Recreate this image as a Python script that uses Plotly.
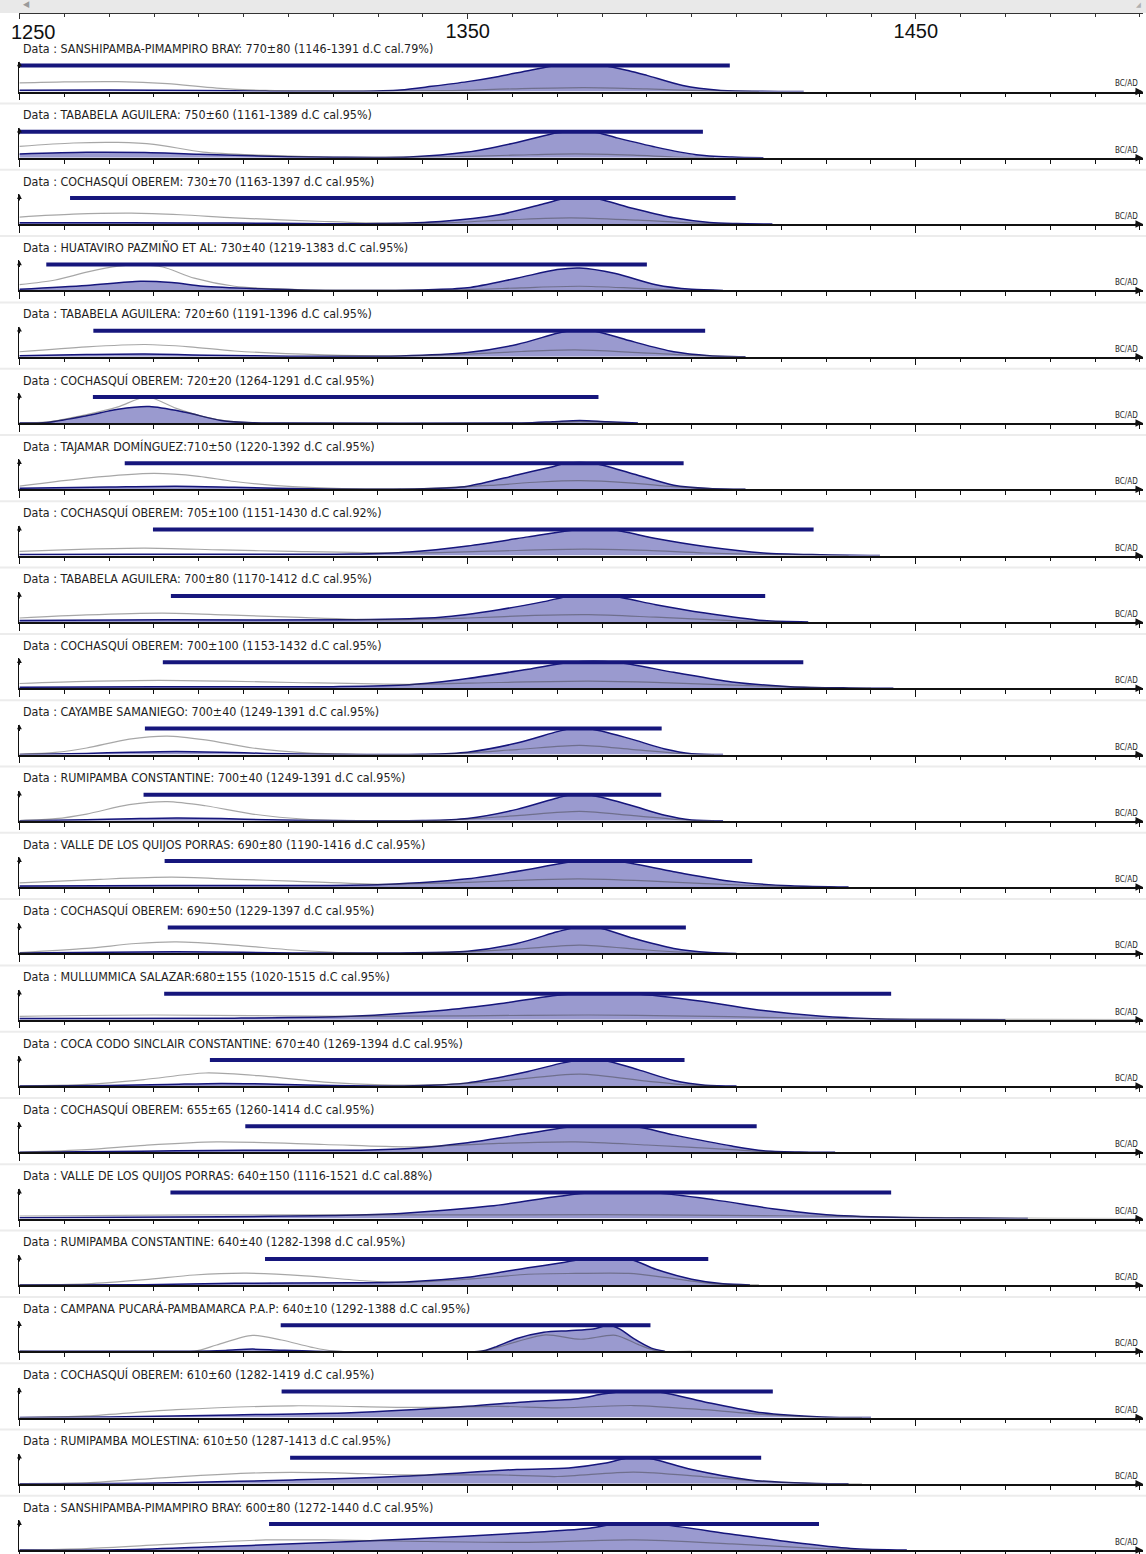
import plotly.graph_objects as go

# ---------------- data ----------------
LABELS = [
    "Data : SANSHIPAMBA-PIMAMPIRO BRAY: 770±80 (1146-1391 d.C cal.79%)",
    "Data : TABABELA AGUILERA: 750±60 (1161-1389 d.C cal.95%)",
    "Data : COCHASQUÍ OBEREM: 730±70 (1163-1397 d.C cal.95%)",
    "Data : HUATAVIRO PAZMIÑO ET AL: 730±40 (1219-1383 d.C cal.95%)",
    "Data : TABABELA AGUILERA: 720±60 (1191-1396 d.C cal.95%)",
    "Data : COCHASQUÍ OBEREM: 720±20 (1264-1291 d.C cal.95%)",
    "Data : TAJAMAR DOMÍNGUEZ:710±50 (1220-1392 d.C cal.95%)",
    "Data : COCHASQUÍ OBEREM: 705±100 (1151-1430 d.C cal.92%)",
    "Data : TABABELA AGUILERA: 700±80 (1170-1412 d.C cal.95%)",
    "Data : COCHASQUÍ OBEREM: 700±100 (1153-1432 d.C cal.95%)",
    "Data : CAYAMBE SAMANIEGO: 700±40 (1249-1391 d.C cal.95%)",
    "Data : RUMIPAMBA CONSTANTINE: 700±40 (1249-1391 d.C cal.95%)",
    "Data : VALLE DE LOS QUIJOS PORRAS: 690±80 (1190-1416 d.C cal.95%)",
    "Data : COCHASQUÍ OBEREM: 690±50 (1229-1397 d.C cal.95%)",
    "Data : MULLUMMICA SALAZAR:680±155 (1020-1515 d.C cal.95%)",
    "Data : COCA CODO SINCLAIR CONSTANTINE: 670±40 (1269-1394 d.C cal.95%)",
    "Data : COCHASQUÍ OBEREM: 655±65 (1260-1414 d.C cal.95%)",
    "Data : VALLE DE LOS QUIJOS PORRAS: 640±150 (1116-1521 d.C cal.88%)",
    "Data : RUMIPAMBA CONSTANTINE: 640±40 (1282-1398 d.C cal.95%)",
    "Data : CAMPANA PUCARÁ-PAMBAMARCA P.A.P: 640±10 (1292-1388 d.C cal.95%)",
    "Data : COCHASQUÍ OBEREM: 610±60 (1282-1419 d.C cal.95%)",
    "Data : RUMIPAMBA MOLESTINA: 610±50 (1287-1413 d.C cal.95%)",
    "Data : SANSHIPAMBA-PIMAMPIRO BRAY: 600±80 (1272-1440 d.C cal.95%)",
]

# range bars (calendar years on the drawn axis)
BAR_FROM = [1245, 1245, 1261.3, 1256, 1266.5, 1266.4, 1273.5, 1279.8, 1283.8, 1282,
            1278, 1277.7, 1282.4, 1283.1, 1282.3, 1292.5, 1300.4, 1283.7, 1304.8,
            1308.3, 1308.5, 1310.4, 1305.7]
BAR_TO = [1408.5, 1402.5, 1409.8, 1390, 1403, 1379.2, 1398.2, 1427.2, 1416.4, 1424.9,
          1393.3, 1393.2, 1413.5, 1398.7, 1444.5, 1398.4, 1414.5, 1444.5, 1403.7,
          1390.8, 1418.1, 1415.5, 1428.4]

# calibrated (modelled) probability, relative height (1 = peak level at bar)
BLUE_CURVES = [
    [(1250, .05), (1270, .06), (1290, .04), (1305, .015), (1325, .01), (1335, .06), (1342, .2), (1350, .38),
     (1357, .58), (1364, .82), (1370, 1), (1380, 1), (1386, .8), (1390, .62), (1398, .23), (1406, .05),
     (1415, .01), (1425, 0)],
    [(1250, .15), (1265, .21), (1278, .2), (1290, .14), (1298, .1), (1310, .04), (1320, .02), (1337, .03),
     (1350, .22), (1361, .59), (1370, .96), (1373, 1), (1378, 1), (1383, .78), (1392, .41), (1401, .12),
     (1409, .03), (1416, 0)],
    [(1250, .05), (1275, .05), (1298, .04), (1318, .015), (1330, .02), (1344, .1), (1357, .36), (1367, .78),
     (1372, 1), (1378, 1), (1387, .6), (1396, .24), (1404, .06), (1410, .02), (1418, 0)],
    [(1250, .04), (1265, .19), (1277, .35), (1284, .3), (1291, .16), (1304, .06), (1315, .01), (1340, .02),
     (1350, .1), (1361, .47), (1370, .8), (1375, .86), (1383, .65), (1392, .22), (1400, .04), (1407, 0)],
    [(1250, .04), (1265, .08), (1278, .1), (1292, .06), (1310, .02), (1335, .03), (1350, .16), (1361, .47),
     (1370, .9), (1373, 1), (1378, 1), (1386, .62), (1396, .19), (1404, .04), (1412, 0)],
    [(1250, 0), (1256, .02), (1265, .28), (1272, .53), (1279, .63), (1287, .41), (1295, .1), (1302, .01),
     (1308, 0), (1362, 0), (1369, .05), (1375, .1), (1381, .05), (1388, 0)],
    [(1250, .04), (1270, .09), (1285, .12), (1298, .08), (1315, .02), (1340, .02), (1350, .12), (1361, .55),
     (1368.5, .85), (1372, 1), (1378, 1), (1387, .59), (1396, .16), (1404, .03), (1412, 0)],
    [(1250, .04), (1275, .05), (1300, .05), (1324, .06), (1337, .14), (1350, .37), (1363.5, .72), (1372, .95),
     (1375, 1), (1382, 1), (1392, .66), (1403, .35), (1416, .1), (1429, .03), (1442, 0)],
    [(1250, .05), (1283, .08), (1324, .08), (1344, .18), (1357, .47), (1367, .78), (1373, 1), (1382, 1),
     (1392, .66), (1403, .34), (1416, .05), (1426, 0)],
    [(1250, .04), (1280, .06), (1320, .06), (1337, .13), (1350, .37), (1363.5, .73), (1373, 1), (1383, 1),
     (1396, .61), (1409, .24), (1422, .06), (1435, .01), (1445, 0)],
    [(1250, 0), (1265, .04), (1275, .09), (1285, .12), (1295, .09), (1305, .04), (1318, .01), (1340, .01),
     (1350, .09), (1361, .44), (1370, .88), (1373, 1), (1377, 1), (1386, .62), (1394, .21), (1400, .03),
     (1407, 0)],
    [(1250, 0), (1265, .04), (1275, .08), (1285, .11), (1295, .09), (1305, .04), (1318, .01), (1340, .01),
     (1350, .09), (1361, .44), (1370, .88), (1373, 1), (1377, 1), (1386, .62), (1394, .21), (1400, .03),
     (1407, 0)],
    [(1250, .04), (1285, .06), (1315, .06), (1331, .1), (1350, .32), (1363.5, .68), (1372, .95), (1375, 1),
     (1383, 1), (1396, .59), (1409, .22), (1422, .05), (1435, 0)],
    [(1250, .02), (1270, .04), (1285, .06), (1300, .04), (1311, .02), (1335, .02), (1350, .08), (1361, .38),
     (1370, .83), (1374, 1), (1379, 1), (1387, .58), (1396, .19), (1404, .03), (1410, 0)],
    [(1250, .05), (1298, .06), (1324, .13), (1344, .35), (1357, .61), (1370, .94), (1375, 1), (1387, 1),
     (1402.7, .7), (1416, .35), (1429, .13), (1442, .03), (1455, .01), (1470, 0)],
    [(1250, 0), (1270, .02), (1283, .06), (1295, .1), (1307, .07), (1320, .02), (1338, .01), (1350, .12),
     (1363.5, .56), (1371, .88), (1375, 1), (1380, 1), (1388, .63), (1396, .21), (1403, .03), (1410, 0)],
    [(1250, 0), (1270, .03), (1285, .06), (1300, .08), (1324, .08), (1337, .15), (1350, .37), (1363.5, .73),
     (1373, .98), (1375, 1), (1387, 1), (1396, .67), (1409, .24), (1416, .06), (1424, .01), (1432, 0)],
    [(1250, .03), (1295, .07), (1320, .12), (1335, .2), (1355, .48), (1370, .85), (1378, 1), (1391, 1),
     (1405, .72), (1418, .38), (1430, .15), (1445, .05), (1460, .02), (1475, 0)],
    [(1250, 0), (1278, .01), (1298, .06), (1324, .08), (1337, .12), (1350, .29), (1363.5, .66), (1371, .85),
     (1376, 1), (1386, 1), (1392, .6), (1400, .22), (1407, .04), (1413, 0)],
    [(1250, 0), (1289, 0), (1296, .03), (1302, .08), (1308, .04), (1316, 0), (1353, 0), (1356, .15),
     (1361, .49), (1367, .73), (1372.6, .79), (1378, .85), (1381.5, 1), (1384, .85), (1387, .49),
     (1391, .12), (1394, 0)],
    [(1250, 0), (1270, .02), (1298, .1), (1324, .18), (1350, .43), (1363.5, .61), (1374, .71), (1380.5, .91),
     (1385, 1), (1392, 1), (1402.7, .61), (1415.8, .18), (1429, .02), (1440, 0)],
    [(1250, 0), (1270, .01), (1285, .04), (1311, .15), (1337, .3), (1361, .55), (1372.6, .61), (1380.5, .79),
     (1386, 1), (1390, 1), (1400, .55), (1413, .15), (1426, .02), (1435, 0)],
    [(1250, 0), (1272, .01), (1291.5, .12), (1311, .24), (1337, .43), (1363.5, .67), (1376.6, .83), (1383, 1),
     (1392, 1), (1409, .61), (1422.4, .3), (1435.5, .06), (1448, 0)],
]

# unmodelled likelihood (thin grey line)
GRAY_CURVES = [
    [(1250, .33), (1260, .37), (1272, .38), (1283, .3), (1294, .13), (1305, .04), (1320, .02), (1345, .03),
     (1360, .1), (1376, .15), (1390, .1), (1402, .03), (1415, 0)],
    [(1250, .44), (1262, .57), (1272, .59), (1280, .52), (1291, .22), (1304, .1), (1318, .03), (1330, .02),
     (1345, .04), (1360, .1), (1374, .15), (1387, .1), (1396, .03), (1405, 0)],
    [(1250, .27), (1262, .38), (1275, .42), (1286, .36), (1298, .24), (1318, .1), (1332, .03), (1345, .05),
     (1360, .17), (1373, .24), (1388, .15), (1403, .03), (1412, 0)],
    [(1250, .22), (1258, .4), (1265, .7), (1272, .93), (1277, .98), (1282, .9), (1289, .47), (1298, .16),
     (1311, .04), (1325, .01), (1350, .03), (1362, .1), (1375, .16), (1388, .08), (1398, .01), (1405, 0)],
    [(1250, .19), (1265, .38), (1278, .47), (1288, .38), (1298, .22), (1318, .07), (1335, .03), (1350, .1),
     (1362, .2), (1374, .26), (1388, .16), (1402, .04), (1412, 0)],
    [(1250, 0), (1256, .03), (1265, .32), (1272, .62), (1278.5, 1), (1285, .56), (1291, .25), (1297, .06),
     (1302, .01), (1308, 0), (1365, 0), (1375, .06), (1385, 0)],
    [(1250, .12), (1265, .43), (1280, .61), (1290, .5), (1298, .3), (1311, .1), (1322, .03), (1340, .03),
     (1355, .15), (1366, .28), (1375, .33), (1386, .25), (1396, .1), (1405, .02), (1412, 0)],
    [(1250, .16), (1265, .25), (1278, .29), (1295, .22), (1311, .16), (1337, .1), (1355, .17), (1376, .25),
     (1390, .2), (1403, .1), (1422, .03), (1435, 0)],
    [(1250, .15), (1265, .27), (1282, .34), (1296, .27), (1311, .18), (1331, .08), (1350, .15), (1365, .25),
     (1377, .28), (1392, .18), (1409, .05), (1420, 0)],
    [(1250, .18), (1265, .26), (1281, .3), (1296, .27), (1311, .22), (1337, .15), (1357, .22), (1377, .27),
     (1390, .23), (1403, .16), (1416, .08), (1429, .02), (1440, 0)],
    [(1250, .01), (1258, .08), (1265, .25), (1274.5, .59), (1283, .71), (1291.5, .56), (1302, .25),
     (1314, .06), (1325, .01), (1345, .02), (1361, .19), (1375, .35), (1387, .19), (1399, .02), (1405, 0)],
    [(1250, .01), (1258, .08), (1265, .26), (1274.5, .62), (1283, .74), (1291.5, .58), (1302, .26),
     (1314, .06), (1325, .01), (1345, .02), (1361, .2), (1375, .36), (1387, .2), (1399, .02), (1405, 0)],
    [(1250, .16), (1268, .3), (1284, .38), (1298, .3), (1311, .23), (1331, .11), (1350, .18), (1364, .28),
     (1375, .32), (1390, .24), (1403, .13), (1422, .02), (1432, 0)],
    [(1250, .03), (1265, .19), (1276, .38), (1285, .44), (1298, .32), (1311, .13), (1324, .02), (1340, .02),
     (1352, .08), (1363.5, .19), (1375, .32), (1390, .13), (1402, .01), (1408, 0)],
    [(1250, .13), (1280, .18), (1324, .13), (1350, .15), (1377, .18), (1400, .14), (1416, .09), (1442, .03),
     (1470, .01), (1500, 0)],
    [(1250, 0), (1265, .06), (1278, .25), (1291.5, .5), (1304.6, .38), (1318, .15), (1331, .04), (1343, .05),
     (1357, .19), (1375, .46), (1390, .19), (1399, .04), (1406, 0)],
    [(1250, 0), (1265, .1), (1278, .27), (1294, .4), (1318, .3), (1337, .21), (1357, .34), (1374, .4),
     (1390, .28), (1409, .1), (1418, .02), (1426, 0)],
    [(1250, .1), (1290, .14), (1340, .14), (1380, .15), (1420, .11), (1450, .05), (1480, .01), (1500, 0)],
    [(1250, 0), (1265, .04), (1278, .2), (1289, .38), (1300.6, .45), (1313.7, .35), (1327, .16), (1337, .1),
     (1350, .22), (1363.5, .41), (1374, .44), (1386, .44), (1394, .29), (1403, .08), (1409, .01), (1415, 0)],
    [(1250, 0), (1289, 0), (1294, .24), (1302, .61), (1308.5, .43), (1315, .16), (1320, .01), (1353, 0),
     (1361, .37), (1367.4, .63), (1375.3, .46), (1383, .61), (1388.3, .24), (1392.3, .01), (1400, 0)],
    [(1250, 0), (1265, .06), (1285, .3), (1311, .45), (1337, .39), (1357, .43), (1370, .37), (1387, .46),
     (1402.7, .3), (1415.8, .12), (1429, .01), (1438, 0)],
    [(1250, 0), (1265, .04), (1285, .27), (1305, .43), (1318, .43), (1337, .34), (1357, .34), (1370, .28),
     (1387, .45), (1402.7, .27), (1415.8, .09), (1429, .01), (1438, 0)],
    [(1250, 0), (1265, .06), (1285, .24), (1305, .39), (1318, .39), (1337, .34), (1363.5, .3), (1387, .39),
     (1409, .24), (1429, .06), (1442, 0)],
]

TOP_TICKS = [1250, 1350, 1450]
TOP_TICK_TEXT = ["", "1350", "1450"]   # first label is placed flush-left below
TOP_FIRST_LABEL = "1250"

# ---------------- style / layout ----------------
W, H = 1146, 1554
NAVY = "#16167c"
FILL = "#9a9acf"
GRAY = "rgba(60,60,60,0.45)"
TXT = "#1e1e1e"
FONT = "DejaVu Sans Condensed, Liberation Sans Narrow, Liberation Sans, Arial, sans-serif"
SCALE_FONT = dict(size=20, color="#111", family="Liberation Sans, Arial, sans-serif")

X0_PX, X1_PX = 19.4, 1143.0
PX_PER_YEAR = 4.482
XMIN = 1250
XMAX = XMIN + (X1_PX - X0_PX) / PX_PER_YEAR
XDOM = [X0_PX / W, X1_PX / W]
ROW0, PITCH = 48.5, 66.3


def py(y):
    return 1 - y / H


fig = go.Figure()
layout = dict(
    width=W, height=H, margin=dict(l=0, r=0, t=0, b=0, autoexpand=False),
    paper_bgcolor="white", plot_bgcolor="rgba(0,0,0,0)",
    showlegend=False, font=dict(family=FONT, color=TXT),
)
annotations = []
shapes = []

axis_common = dict(showgrid=False, zeroline=False, fixedrange=True, automargin=False)

for i, label in enumerate(LABELS):
    k = i + 1
    sx = "" if k == 1 else str(k)
    xa, ya = "x" + sx, "y" + sx
    L = ROW0 + PITCH * i
    bar = L + 17
    base = L + 43
    top = bar - 4
    ytop = (base - top) / (base - bar)

    layout["xaxis" + sx] = dict(
        axis_common, domain=XDOM, range=[XMIN, XMAX], anchor=ya,
        showline=True, linecolor="#111", linewidth=1.5,
        ticks="outside", ticklen=7, tickwidth=1, tickcolor="#111",
        tickmode="linear", tick0=1250, dtick=100, showticklabels=False,
        minor=dict(tickmode="linear", tick0=1250, dtick=10, ticks="outside",
                   ticklen=4, tickwidth=1, tickcolor="#111", showgrid=False),
    )
    layout["yaxis" + sx] = dict(
        axis_common, domain=[py(base), py(top)], range=[0, ytop], anchor=xa,
        showline=True, linecolor="#111", linewidth=1.2, ticks="",
        showticklabels=False,
    )

    bx = [p[0] for p in BLUE_CURVES[i]]
    by = [p[1] for p in BLUE_CURVES[i]]
    gx = [p[0] for p in GRAY_CURVES[i]]
    gy = [p[1] for p in GRAY_CURVES[i]]

    fig.add_trace(go.Scatter(
        x=bx, y=by, xaxis=xa, yaxis=ya, mode="lines", fill="tozeroy",
        fillcolor=FILL, line=dict(color=NAVY, width=1.5, shape="spline", smoothing=0.8),
        hoverinfo="skip"))
    fig.add_trace(go.Scatter(
        x=gx, y=gy, xaxis=xa, yaxis=ya, mode="lines",
        line=dict(color=GRAY, width=1.2, shape="spline", smoothing=0.8),
        hoverinfo="skip"))
    fig.add_trace(go.Scatter(
        x=[BAR_FROM[i], BAR_TO[i]], y=[1, 1], xaxis=xa, yaxis=ya, mode="lines",
        line=dict(color=NAVY, width=4), hoverinfo="skip"))

    # row title
    annotations.append(dict(
        x=21 / W, y=py(L), xref="paper", yref="paper", text=label, showarrow=False,
        xanchor="left", yanchor="middle", font=dict(size=12.4, color=TXT, family=FONT)))
    # BC/AD
    annotations.append(dict(
        x=XMAX, y=0, xref=xa, yref=ya, text="BC/AD", showarrow=False,
        xanchor="right", yanchor="bottom", xshift=-3, yshift=1,
        font=dict(size=8, color=TXT, family=FONT)))
    # arrow heads
    annotations.append(dict(
        x=XMAX, y=0, xref=xa, yref=ya, text="", showarrow=True, ax=-9, ay=0,
        arrowhead=2, arrowsize=1, arrowwidth=1.5, arrowcolor="#111", standoff=0))
    annotations.append(dict(
        x=XMIN, y=ytop, xref=xa, yref=ya, text="", showarrow=True, ax=0, ay=8,
        arrowhead=2, arrowsize=0.8, arrowwidth=1.2, arrowcolor="#111", standoff=0))
    # faint separator
    shapes.append(dict(type="line", xref="paper", yref="paper", x0=0, x1=1,
                       y0=py(base + 12), y1=py(base + 12),
                       line=dict(color="#ececec", width=2), layer="below"))

# top scale (own axis pair; an invisible anchor point makes plotly draw it)
kt = len(LABELS) + 1
fig.add_trace(go.Scatter(x=[XMIN + 1], y=[0.5], xaxis="x%d" % kt, yaxis="y%d" % kt,
                         mode="markers", marker=dict(opacity=0), hoverinfo="skip"))
layout["xaxis%d" % kt] = dict(
    axis_common, domain=XDOM, range=[XMIN - 0.05, XMAX], anchor="y%d" % kt,
    showline=True, linecolor="#333", linewidth=1,
    ticks="outside", ticklen=5, tickwidth=1, tickcolor="#333",
    tickmode="array", tickvals=TOP_TICKS, ticktext=TOP_TICK_TEXT,
    ticklabelstandoff=-5, tickfont=SCALE_FONT,
    minor=dict(tickmode="linear", tick0=1250, dtick=10, ticks="outside",
               ticklen=3, tickwidth=1, tickcolor="#333", showgrid=False),
)
layout["yaxis%d" % kt] = dict(axis_common, domain=[py(13), py(5)], range=[0, 1],
                              anchor="x%d" % kt, visible=False)
# first scale label, kept inside the page (flush left of its tick)
annotations.append(dict(
    x=TOP_TICKS[0], y=0, xref="x%d" % kt, yref="y%d" % kt, text=TOP_FIRST_LABEL,
    showarrow=False, xanchor="left", yanchor="top", xshift=-11, yshift=-6,
    font=SCALE_FONT))

shapes.append(dict(type="rect", xref="paper", yref="paper", x0=0, x1=1,
                   y0=py(13), y1=1, fillcolor="#e9e9e9", line=dict(width=0), layer="below"))
annotations.append(dict(x=26 / W, y=py(4), xref="paper", yref="paper", text="◀",
                        showarrow=False, font=dict(size=9, color="#9a9a9a"),
                        xanchor="center", yanchor="middle"))
annotations.append(dict(x=1138 / W, y=py(5), xref="paper", yref="paper", text="◢",
                        showarrow=False, font=dict(size=7, color="#b0b0b0"),
                        xanchor="center", yanchor="middle"))

layout["annotations"] = annotations
layout["shapes"] = shapes
fig.update_layout(**layout)

fig.write_html("out.html", config={"displayModeBar": False},
               post_script="document.body.style.margin='0';")
